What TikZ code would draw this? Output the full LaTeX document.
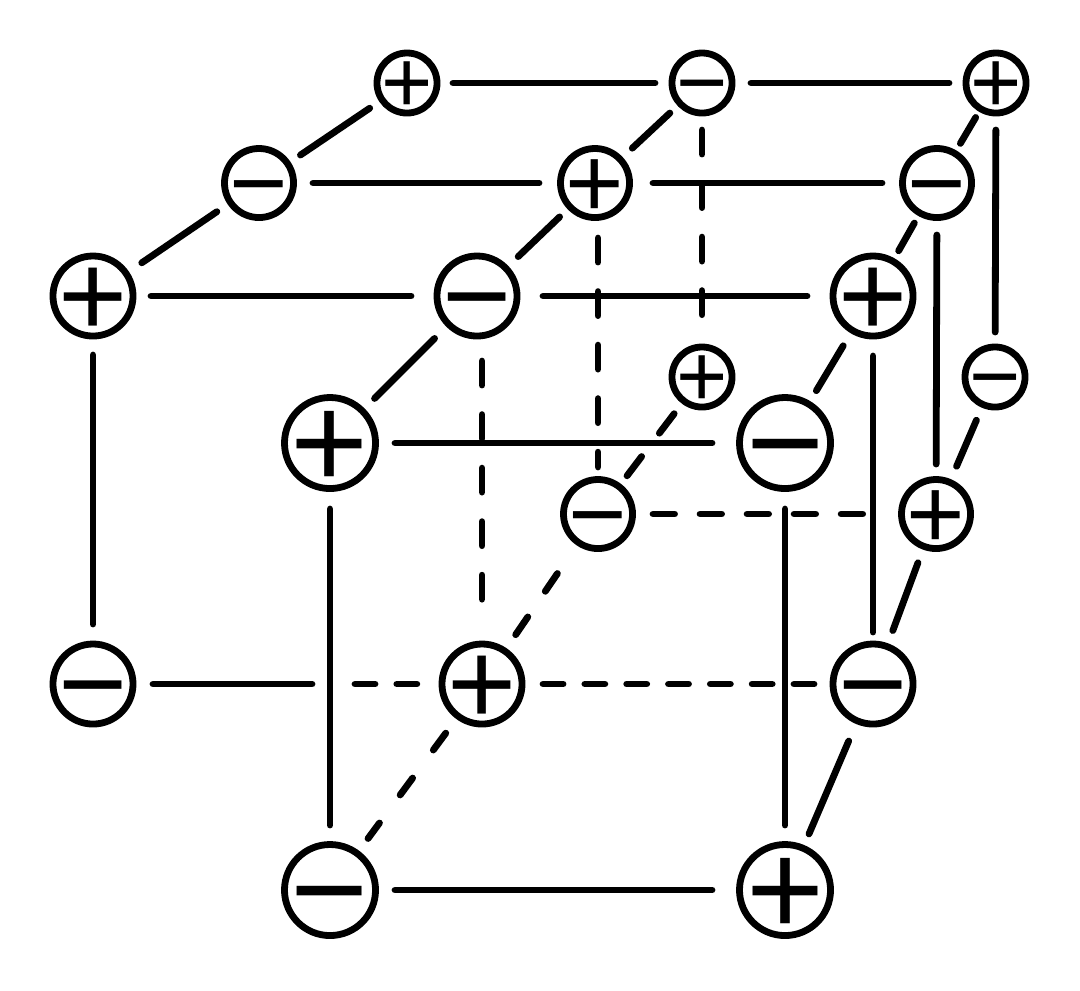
\documentclass[tikz,border=0pt]{standalone}
\usepackage{fontspec}
\setmainfont{Liberation Sans}
\usetikzlibrary{positioning}

\newcommand{\signtext}[1]{\makebox[0pt]{\raisebox{-0.34em}[0pt][0pt]{#1}}}

\tikzset{
    charge/.style={draw, circle, line width=0.68mm, inner sep=0pt, outer sep=0pt},
    small/.style={charge, minimum size=0.60cm, font=\fontsize{25pt}{25pt}\selectfont},
    mid/.style={charge, minimum size=0.69cm, font=\fontsize{28.5pt}{28.5pt}\selectfont},
    large/.style={charge, minimum size=0.80cm, font=\fontsize{33.7pt}{33.7pt}\selectfont},
    huge/.style={charge, minimum size=0.91cm, font=\fontsize{38pt}{38pt}\selectfont},
    bond/.style={line width=0.68mm, line cap=round},
    dashlong/.style={bond, dash pattern=on 0.24cm off 0.295cm},
    dashdiag/.style={bond, dash pattern=on 0.245cm off 0.293cm},
    dashslant/.style={bond, dash pattern=on 0.215cm off 0.31cm},
    dashwide/.style={bond, dash pattern=on 0.21cm off 0.348cm},
    dashmid/.style={bond, dash pattern=on 0.215cm off 0.255cm},
    dashshort/.style={bond, dash pattern=on 0.20cm off 0.218cm}
}

\begin{document}
\begin{tikzpicture}[x=0.01cm, y=-0.01cm]
        \useasboundingbox (0,0) rectangle (1080,990);

        % Back level
        \node[small] (B-1) at (407,83) {\signtext{+}};
        \node[small] (B-2) at (702,83) {\signtext{−}};
        \node[small] (B-3) at (996,83) {\signtext{+}};
        \node[small] (B-4) at (702,377) {\signtext{+}};
        \node[small] (B-5) at (995,377) {\signtext{−}};

        % Second level
        \node[mid] (M-1) at (259,183) {\signtext{−}};
        \node[mid] (M-2) at (595,183) {\signtext{+}};
        \node[mid] (M-3) at (937,183) {\signtext{−}};
        \node[mid] (M-4) at (598,514) {\signtext{−}};
        \node[mid] (M-5) at (936,514) {\signtext{+}};

        % Third level
        \node[large] (L-1) at (93,296) {\signtext{+}};
        \node[large] (L-2) at (477,296) {\signtext{−}};
        \node[large] (L-3) at (873,296) {\signtext{+}};
        \node[large] (L-4) at (93,684) {\signtext{−}};
        \node[large] (L-5) at (482,684) {\signtext{+}};
        \node[large] (L-6) at (873,684) {\signtext{−}};

        % Front level
        \node[huge] (F-1) at (330,443) {\signtext{+}};
        \node[huge] (F-2) at (785,443) {\signtext{−}};
        \node[huge] (F-3) at (330,890) {\signtext{−}};
        \node[huge] (F-4) at (785,890) {\signtext{+}};

        % Free ends where a line breaks at a crossing
        \coordinate (cross-a) at (312,684);
        \coordinate (cross-b) at (355,684);

        % Solid lines, with the distance kept free at each end
        \foreach \a/\b/\u/\v in {B-1/B-2/46/47, B-2/B-3/49/47, M-1/M-2/54/56, M-2/M-3/58/55,
                                 L-1/L-2/58/66, L-2/L-3/66/66, F-1/F-2/65/73, F-3/F-4/65/73,
                                 L-1/L-4/59/60, F-1/F-3/66/65, F-2/F-4/66/65, L-3/L-6/60/52,
                                 M-3/M-5/52/50, B-3/B-5/47/45, B-1/M-1/45/50, M-1/L-1/51/59,
                                 B-2/M-2/44/51, M-2/L-2/49/57, L-2/F-1/60/63, B-3/M-3/40/46,
                                 M-3/L-3/46/52, L-3/F-2/58/61, B-5/M-5/47/52, M-5/L-6/52/57,
                                 L-6/F-4/62/61, L-4/cross-a/60/0}
            \draw[bond, shorten <=\u*0.01cm, shorten >=\v*0.01cm] (\a.center) -- (\b.center);

        % Dashed lines
        \draw[dashlong, shorten <=0.47cm, shorten >=0.60cm] (B-2.center) -- (B-4.center);
        \draw[dashlong, shorten <=0.55cm, shorten >=0.47cm] (M-4 |- M-2) -- (M-4.center);
        \draw[dashlong, shorten <=0.65cm, shorten >=0.84cm] (L-5 |- L-2) -- (L-5.center);
        \draw[dashdiag, shorten <=0.46cm, shorten >=0.48cm] (B-4.center) -- (M-4.center);
        \draw[dashslant, shorten <=0.72cm, shorten >=0.59cm] (M-4.center) -- (L-5.center);
        \draw[dashwide, shorten <=0.61cm, shorten >=0.64cm] (L-5.center) -- (F-3.center);
        \draw[dashmid, shorten <=0.55cm, shorten >=0.08cm] (M-4.center) -- (L-3 |- M-4);
        \draw[dashshort, shorten >=0.65cm] (cross-b) -- (L-5.center);
        \draw[dashshort, shorten <=0.61cm, shorten >=0.585cm] (L-5.center) -- (L-6.center);
    \end{tikzpicture}
\end{document}
